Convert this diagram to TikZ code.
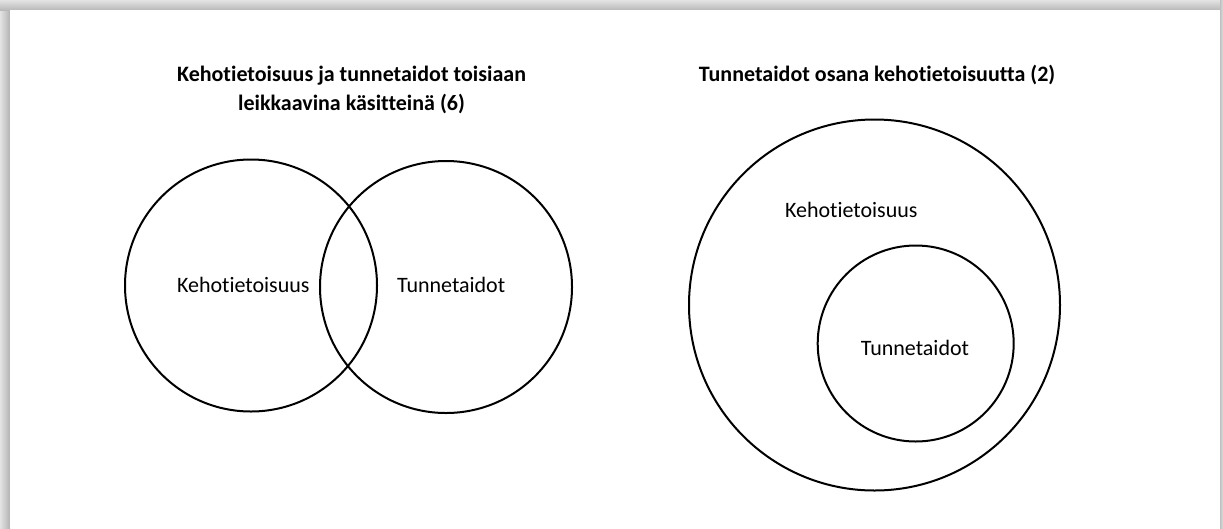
\documentclass[tikz,border=0pt]{standalone}
\usepackage{fontspec}
\setmainfont{Carlito}[Ligatures={NoCommon}]
\begin{document}
\begin{tikzpicture}[x=1pt,y=-1pt,
  ring/.style={draw=black, line width=2pt, circle, inner sep=0pt},
  lbl/.style={font=\fontsize{22}{26}\selectfont, anchor=base, inner sep=0pt},
  ttl/.style={font=\bfseries\fontsize{22}{29}\selectfont, anchor=base, inner sep=0pt}]
\useasboundingbox (0,0) rectangle (1223,528);
% page shadow
\fill[gray!35] (0,0) rectangle (1223,528);
\shade[left color=gray!22, right color=gray!60] (0,0) rectangle (10,528);
\shade[top color=gray!22, bottom color=gray!55] (0,0) rectangle (1223,10);
\shade[left color=gray!50, right color=gray!25] (1220,0) rectangle (1223,528);
\fill[white] (10,10) rectangle (1220,528);
% titles
\node[ttl] (t1a) at (351.5,81) {Kehotietoisuus ja tunnetaidot toisiaan};
\node[ttl] (t1b) at (351.5,110) {leikkaavina käsitteinä (6)};
\node[ttl] (t2) at (877,81) {Tunnetaidot osana kehotietoisuutta (2)};
% venn
\node[ring, minimum size=252pt] (vl) at (251,285.5) {};
\node[ring, minimum size=252pt] (vr) at (446,287) {};
\node[lbl] (lk) at (243.3,292.5) {Kehotietoisuus};
\node[lbl] (lt) at (451.2,292.5) {Tunnetaidot};
% nested
\node[ring, minimum size=371pt] (outer) at (874.5,305) {};
\node[ring, minimum size=196pt] (inner) at (915.7,343.5) {};
\node[lbl] (ok) at (851.3,217) {Kehotietoisuus};
\node[lbl] (it) at (915,355) {Tunnetaidot};
\end{tikzpicture}
\end{document}
